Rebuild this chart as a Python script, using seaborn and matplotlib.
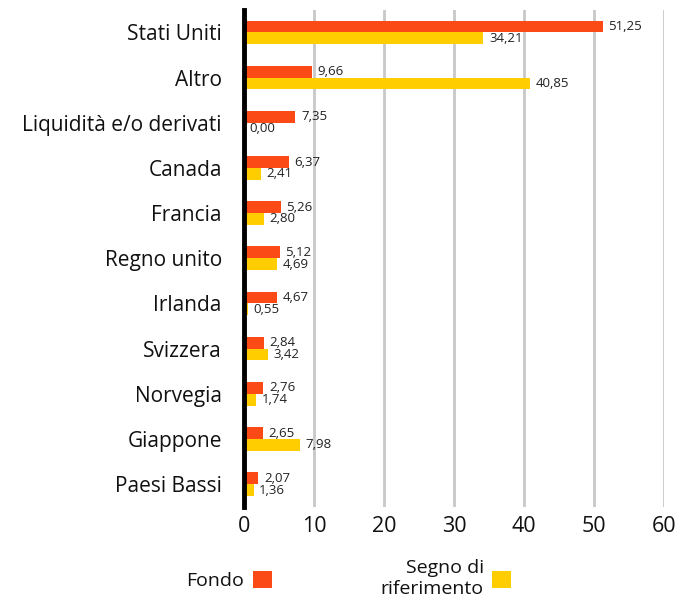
import pandas as pd
import matplotlib
matplotlib.use('Agg')
import matplotlib.pyplot as plt
import seaborn as sns
from matplotlib.patches import Patch

# Data
paesi = ['Stati Uniti', 'Altro', 'Liquidità e/o derivati', 'Canada', 'Francia',
         'Regno unito', 'Irlanda', 'Svizzera', 'Norvegia', 'Giappone', 'Paesi Bassi']
fondo = [51.25, 9.66, 7.35, 6.37, 5.26, 5.12, 4.67, 2.84, 2.76, 2.65, 2.07]
riferimento = [34.21, 40.85, 0.00, 2.41, 2.80, 4.69, 0.55, 3.42, 1.74, 7.98, 1.36]
serie = ['Fondo', 'Segno di\nriferimento']
colori = ['#fc4a17', '#ffcd00']
x_ticks = [0, 10, 20, 30, 40, 50, 60]

df = pd.DataFrame({'Paese': paesi * 2,
                   'Valore': fondo + riferimento,
                   'Serie': [serie[0]] * len(paesi) + [serie[1]] * len(paesi)})

sns.set_style('white')
plt.rcParams['font.family'] = ['Open Sans', 'DejaVu Sans']

fig = plt.figure(figsize=(6.92, 6.08), dpi=100)
ax = fig.add_axes([0.3526, 0.1665, 0.6069, 0.8175])

sns.barplot(data=df, y='Paese', x='Valore', hue='Serie', order=paesi,
            hue_order=serie, palette=colori, orient='h', width=0.52,
            saturation=1, legend=False, linewidth=0, ax=ax)

# value labels with comma decimals
for cont in ax.containers:
    ax.bar_label(cont, labels=[f'{b.get_width():.2f}'.replace('.', ',') for b in cont],
                 padding=4, fontsize=9.5, color='#222222')

ax.set_xlim(0, 60)
ax.set_xticks(x_ticks)
ax.set_ylim(len(paesi) - 0.5, -0.5)
ax.set_xlabel('')
ax.set_ylabel('')
ax.grid(axis='x', color='#c8c8c8', linewidth=2)
ax.set_axisbelow(True)
for s in ['top', 'right', 'bottom']:
    ax.spines[s].set_visible(False)
ax.spines['left'].set_linewidth(3.5)
ax.spines['left'].set_color('black')
ax.tick_params(axis='y', length=0, pad=16, labelsize=15, labelcolor='#111111')
ax.tick_params(axis='x', length=4, width=2, color='#c8c8c8', pad=3,
               labelsize=15.5, labelcolor='#111111')

handles = [Patch(facecolor=c, edgecolor='none') for c in colori]
leg = fig.legend(handles, serie, loc='center', bbox_to_anchor=(0.504, 0.048),
                 ncol=2, frameon=False, markerfirst=False, fontsize=14,
                 handlelength=0.95, handleheight=0.95, columnspacing=5.6,
                 handletextpad=0.45)
for t in leg.get_texts():
    t.set_multialignment('right')
    t.set_color('#111111')

fig.savefig('out.png', dpi=100)
